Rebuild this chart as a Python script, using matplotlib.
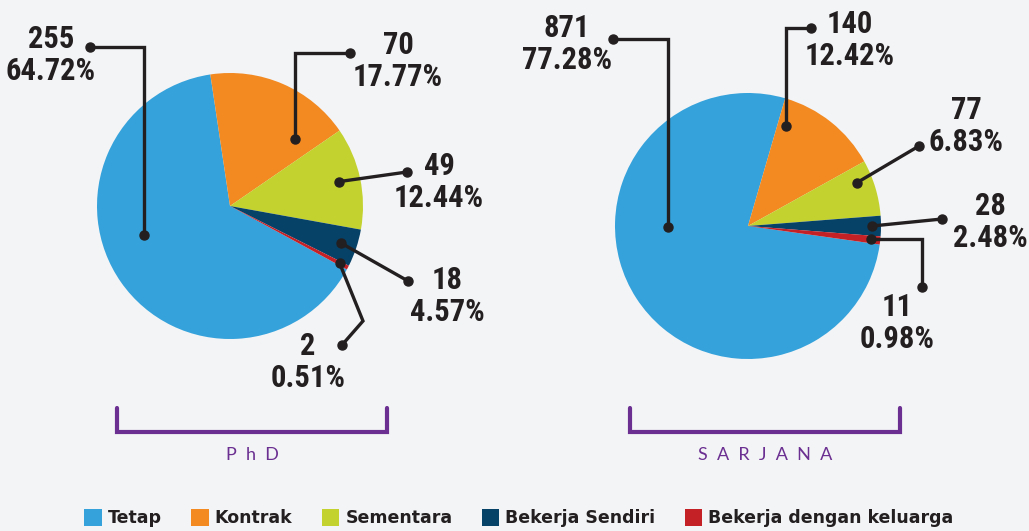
import numpy as np
import matplotlib.pyplot as plt
from matplotlib import font_manager
from matplotlib.patches import Patch

categories = ["Tetap", "Kontrak", "Sementara", "Bekerja Sendiri", "Bekerja dengan keluarga"]
phd_counts = [255, 70, 49, 18, 2]
sarjana_counts = [871, 140, 77, 28, 11]
group_names = ["P h D", "S A R J A N A"]

colors = ["#35a2db", "#f28921", "#c3d22e", "#064168", "#c42127"]
ink = "#231f20"
purple = "#6b2f91"
bg = "#f3f4f6"

names = {f.name for f in font_manager.fontManager.ttflist}


def pick(*cands):
    for c in cands:
        if c in names:
            return c
    return "DejaVu Sans"


num_font = pick("Liberation Sans Narrow", "DejaVu Sans Condensed", "Roboto Condensed", "DejaVu Sans")
leg_font = pick("DejaVu Sans")
sub_font = pick("Lato", "Open Sans", "DejaVu Sans")

W, H = 1029, 531
fig = plt.figure(figsize=(W / 100, H / 100), dpi=100, facecolor=bg)
ax = fig.add_axes([0, 0, 1, 1])
ax.set_facecolor(bg)


def Y(py):
    return H - py


# leader spec: (f across wedge, radius fraction, style, end point, elbow, label centre)
phd_spec = [
    (0.57, 0.68, "up", (90, 47), None, (51, 55)),
    (0.82, 0.70, "up", (350, 53), None, (398, 61)),
    (0.49, 0.84, "line", (407, 172), None, (439, 182)),
    (0.50, 0.88, "line", (408, 281), None, (447, 296)),
    (0.50, 0.93, "knee", (342, 345), (363, 321), (308, 362)),
]
sarjana_spec = [
    (0.616, 0.60, "up", (613, 39), None, (567, 44)),
    (0.10, 0.80, "up", (811, 28), None, (850, 40)),
    (0.30, 0.88, "line", (919, 146), None, (966, 126)),
    (0.50, 0.93, "line", (942, 219), None, (990, 222)),
    (0.50, 0.93, "across", (922, 287), None, (897, 323)),
]


def draw_pie(counts, centre, radius, start, spec):
    cx, cy = centre[0], Y(centre[1])
    wedges, _ = ax.pie(counts, colors=colors, startangle=start, counterclock=False,
                       radius=radius, center=(cx, cy),
                       wedgeprops=dict(linewidth=0))
    total = sum(counts)
    for w, v, (f, rf, style, end, elbow, lab) in zip(wedges, counts, spec):
        a = np.deg2rad(w.theta2 - f * (w.theta2 - w.theta1))
        x0 = cx + rf * radius * np.cos(a)
        y0 = cy + rf * radius * np.sin(a)
        ex, ey = end[0], Y(end[1])
        if style == "up":
            pts = [(x0, y0), (x0, ey), (ex, ey)]
        elif style == "across":
            pts = [(x0, y0), (ex, y0), (ex, ey)]
        elif style == "knee":
            pts = [(x0, y0), (elbow[0], Y(elbow[1])), (ex, ey)]
        else:
            pts = [(x0, y0), (ex, ey)]
        xs, ys = zip(*pts)
        ax.plot(xs, ys, color=ink, lw=2.4, solid_joinstyle="miter", zorder=3)
        ax.plot([xs[0], xs[-1]], [ys[0], ys[-1]], "o", color=ink, ms=6.5, zorder=4)
        ax.text(lab[0], Y(lab[1]), f"{v}\n{v / total * 100:.2f}%", ha="center", va="center",
                fontsize=22, fontweight="bold", family=num_font, color=ink,
                linespacing=1.12, zorder=5)


draw_pie(phd_counts, (230, 206), 133, 331.5, phd_spec)
draw_pie(sarjana_counts, (748, 226), 133, -8, sarjana_spec)

# brackets and group names under each pie
for (x1, x2), name in zip([(117, 387), (630, 900)], group_names):
    ax.plot([x1, x1, x2, x2], [Y(408), Y(432), Y(432), Y(408)], color=purple, lw=3,
            solid_joinstyle="miter", solid_capstyle="round")
    ax.text((x1 + x2) / 2, Y(455), name.replace(" ", "  "), ha="center", va="center",
            fontsize=13, family=sub_font, color=purple)

ax.set_xlim(0, W)
ax.set_ylim(0, H)
ax.set_aspect("equal")
ax.axis("off")

handles = [Patch(facecolor=c, edgecolor="none") for c in colors]
fig.legend(handles, categories, loc="center", bbox_to_anchor=(519 / W, 1 - 518 / H),
           ncol=5, frameon=False, handlelength=1.0, handleheight=1.1,
           handletextpad=0.35, columnspacing=1.7,
           prop=dict(family=leg_font, weight="bold", size=12.5), labelcolor=ink)

fig.savefig("out.png", dpi=100, facecolor=bg)
